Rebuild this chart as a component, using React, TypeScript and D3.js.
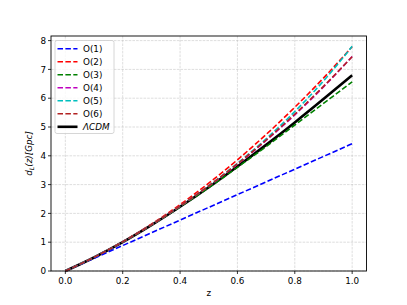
import React from "react";
import * as d3 from "d3";

const zValues = [0, 0.1, 0.2, 0.3, 0.4, 0.5, 0.6, 0.7, 0.8, 0.9, 1.0];
const o1 = [0, 0.442, 0.884, 1.326, 1.768, 2.21, 2.652, 3.094, 3.536, 3.978, 4.42];
const o2 = [0, 0.476, 1.018, 1.628, 2.305, 3.05, 3.861, 4.74, 5.686, 6.699, 7.79];
const o3 = [0, 0.475, 1.008, 1.594, 2.224, 2.892, 3.6, 4.32, 5.07, 5.82, 6.57];
const o4 = [0, 0.475, 1.01, 1.602, 2.248, 2.95, 3.71, 4.531, 5.422, 6.391, 7.45];
const o5 = [0, 0.475, 1.01, 1.603, 2.252, 2.961, 3.737, 4.59, 5.537, 6.598, 7.8];
const o6 = [0, 0.475, 1.01, 1.603, 2.251, 2.956, 3.721, 4.549, 5.445, 6.412, 7.44];
const lcdm = [0, 0.47, 1.0, 1.59, 2.23, 2.91, 3.63, 4.38, 5.16, 5.97, 6.8];

const seriesNames = ["O(1)", "O(2)", "O(3)", "O(4)", "O(5)", "O(6)"];
const seriesColors = ["#0000ff", "#ff0000", "#008000", "#bf00bf", "#00bfbf", "#b22222"];
const seriesData = [o1, o2, o3, o4, o5, o6];

const xTicks = [0, 0.2, 0.4, 0.6, 0.8, 1.0];
const yTicks = [0, 1, 2, 3, 4, 5, 6, 7, 8];

export default function App() {
  const W = 407, H = 305;
  const left = 51, right = 366.5, top = 36, bottom = 271;
  const x = d3.scaleLinear().domain([-0.05, 1.05]).range([left, right]);
  const y = d3.scaleLinear().domain([0, 8.16]).range([bottom, top]);
  const line = d3
    .line<number>()
    .x((_, i) => x(zValues[i]))
    .y((d) => y(d))
    .curve(d3.curveMonotoneX);
  const font = "DejaVu Sans, sans-serif";
  const fs = 8.8;
  const legX = 55, legY = 40.5, legW = 59, legH = 93;
  const rowH = 13;
  return (
    <svg width={W} height={H} style={{ position: "absolute", left: 0, top: 0 }}>
      <rect x={0} y={0} width={W} height={H} fill="#fff" />
      {xTicks.map((t) => (
        <line key={"gx" + t} x1={x(t)} x2={x(t)} y1={top} y2={bottom} stroke="#b0b0b0" strokeOpacity={0.6} strokeWidth={0.7} strokeDasharray="2.6,1.1" />
      ))}
      {yTicks.map((t) => (
        <line key={"gy" + t} x1={left} x2={right} y1={y(t)} y2={y(t)} stroke="#b0b0b0" strokeOpacity={0.6} strokeWidth={0.7} strokeDasharray="2.6,1.1" />
      ))}
      <path d={line(lcdm) || ""} fill="none" stroke="#000" strokeWidth={2.6} />
      {seriesData.map((s, i) => (
        <path key={i} d={line(s) || ""} fill="none" stroke={seriesColors[i]} strokeWidth={1.6} strokeDasharray="5.5,2.4" />
      ))}
      <rect x={left} y={top} width={right - left} height={bottom - top} fill="none" stroke="#000" strokeWidth={0.9} />
      {xTicks.map((t) => (
        <g key={"tx" + t}>
          <line x1={x(t)} x2={x(t)} y1={bottom} y2={bottom + 3} stroke="#000" strokeWidth={0.8} />
          <text x={x(t)} y={bottom + 13} fontSize={fs} fontFamily={font} textAnchor="middle" fill="#000">
            {t.toFixed(1)}
          </text>
        </g>
      ))}
      {yTicks.map((t) => (
        <g key={"ty" + t}>
          <line x1={left - 3} x2={left} y1={y(t)} y2={y(t)} stroke="#000" strokeWidth={0.8} />
          <text x={left - 5} y={y(t) + 3.2} fontSize={fs} fontFamily={font} textAnchor="end" fill="#000">
            {t}
          </text>
        </g>
      ))}
      <text x={(left + right) / 2} y={296} fontSize={fs} fontFamily={font} textAnchor="middle">
        z
      </text>
      <text transform={`translate(32, ${(top + bottom) / 2}) rotate(-90)`} fontSize={fs} fontFamily={font} textAnchor="middle" fontStyle="italic">
        d<tspan fontSize={6.3} dy={1.8}>L</tspan><tspan dy={-1.8}>(z)[Gpc]</tspan>
      </text>
      <rect x={legX} y={legY} width={legW} height={legH} rx={2} fill="#fff" fillOpacity={0.8} stroke="#cccccc" strokeWidth={0.8} />
      {seriesNames.map((n, i) => (
        <g key={n}>
          <line x1={57.5} x2={77.5} y1={legY + 8.3 + i * rowH} y2={legY + 8.3 + i * rowH} stroke={seriesColors[i]} strokeWidth={1.6} strokeDasharray="5.5,2.4" />
          <text x={83} y={legY + 8.3 + i * rowH + 3.2} fontSize={fs} fontFamily={font} fill="#000">
            {n}
          </text>
        </g>
      ))}
      <line x1={57.5} x2={77.5} y1={legY + 8.3 + 6 * rowH} y2={legY + 8.3 + 6 * rowH} stroke="#000" strokeWidth={2.6} />
      <text x={83} y={legY + 8.3 + 6 * rowH + 3.2} fontSize={fs} fontFamily={font} fontStyle="italic" fill="#000">
        ΛCDM
      </text>
    </svg>
  );
}
